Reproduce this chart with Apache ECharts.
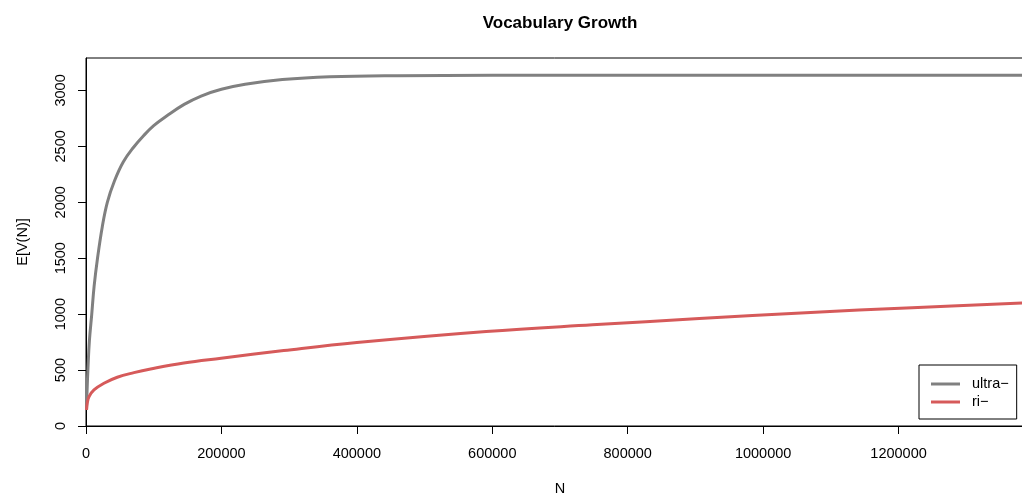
<!DOCTYPE html>
<html>
<head>
<meta charset="utf-8">
<script src="https://cdn.jsdelivr.net/npm/echarts@6/dist/echarts.min.js"></script>
<style>html,body{margin:0;padding:0;background:#fff}#c{width:1022px;height:494px}</style>
</head>
<body>
<div id="c"></div>
<script>
const title = "Vocabulary Growth";
const xName = "N";
const yName = "E[V(N)]";
const seriesNames = ["ultra\u2212", "ri\u2212"];
const xTicks = [0, 200000, 400000, 600000, 800000, 1000000, 1200000];
const yTicks = [0, 500, 1000, 1500, 2000, 2500, 3000];

const ultraN = [800, 1500, 3000, 5000, 8500, 12000, 17000, 24000, 31500, 42000, 55000, 70000, 85000, 100000, 120000, 145000, 170000, 200000, 235000, 290000, 360000, 460000, 600000, 800000, 1000000, 1400000];
const ultraV = [150, 300, 530, 760, 1000, 1250, 1500, 1780, 2000, 2190, 2360, 2490, 2595, 2685, 2775, 2875, 2950, 3010, 3055, 3097, 3122, 3132, 3135, 3135, 3135, 3135];

const riN = [800, 2000, 4400, 11800, 26500, 46200, 70800, 95400, 144500, 199600, 292000, 400000, 591000, 748000, 905600, 1063000, 1220000, 1400000];
const riV = [143, 210, 262, 322, 382, 436, 477, 510, 564, 606, 674, 746, 845, 905, 960, 1013, 1058, 1103];

const font = "Liberation Sans, Arial, Helvetica, sans-serif";
const chart = echarts.init(document.getElementById('c'), null, {renderer: 'canvas'});
chart.setOption({
  animation: false,
  backgroundColor: '#fff',
  graphic: [{
    type: 'text', x: 560, y: 15,
    style: {text: title, fontFamily: font, fontWeight: 'bold', fontSize: 17, fill: '#000', align: 'center', textAlign: 'center'}
  }],
  grid: {left: 86, top: 58, right: -12, bottom: 68, show: true, borderColor: '#000', borderWidth: 1,
         containLabel: false, outerBoundsMode: 'none'},
  legend: {
    orient: 'vertical', left: 919, top: 365,
    data: seriesNames,
    icon: 'rect',
    borderColor: '#000', borderWidth: 1, borderRadius: 0,
    padding: [11, 8, 9, 12],
    itemWidth: 29, itemHeight: 3, itemGap: 2,
    textStyle: {fontFamily: font, fontSize: 14.5, color: '#000', padding: [0, 0, 0, 7], lineHeight: 16}
  },
  xAxis: {
    type: 'value', min: 0, max: 1400000, interval: 200000,
    name: xName, nameLocation: 'middle', nameGap: 55,
    nameTextStyle: {fontFamily: font, fontSize: 14.5, color: '#000'},
    axisLine: {show: true, lineStyle: {color: '#000', width: 1}},
    axisTick: {show: true, length: 8, customValues: xTicks, lineStyle: {color: '#000'}},
    axisLabel: {customValues: xTicks, formatter: v => String(v), fontFamily: font, fontSize: 14.5, color: '#000', margin: 20},
    splitLine: {show: false}
  },
  yAxis: {
    type: 'value', min: 0, max: 3290, interval: 500,
    name: yName, nameLocation: 'middle', nameGap: 56, nameRotate: 90,
    nameTextStyle: {fontFamily: font, fontSize: 14.5, color: '#000'},
    axisLine: {show: true, lineStyle: {color: '#000', width: 1}},
    axisTick: {show: true, length: 8, customValues: yTicks, lineStyle: {color: '#000'}},
    axisLabel: {customValues: yTicks, formatter: v => String(v), rotate: 90, fontFamily: font, fontSize: 14.5, color: '#000', margin: 18},
    splitLine: {show: false}
  },
  series: [
    {name: seriesNames[0], type: 'line', symbol: 'none', smooth: 0.4,
     lineStyle: {color: '#808080', width: 3}, itemStyle: {color: '#808080'},
     data: ultraN.map((n, i) => [n, ultraV[i]])},
    {name: seriesNames[1], type: 'line', symbol: 'none', smooth: 0.4,
     lineStyle: {color: '#D65A5A', width: 3}, itemStyle: {color: '#D65A5A'},
     data: riN.map((n, i) => [n, riV[i]])}
  ]
});
</script>
</body>
</html>
